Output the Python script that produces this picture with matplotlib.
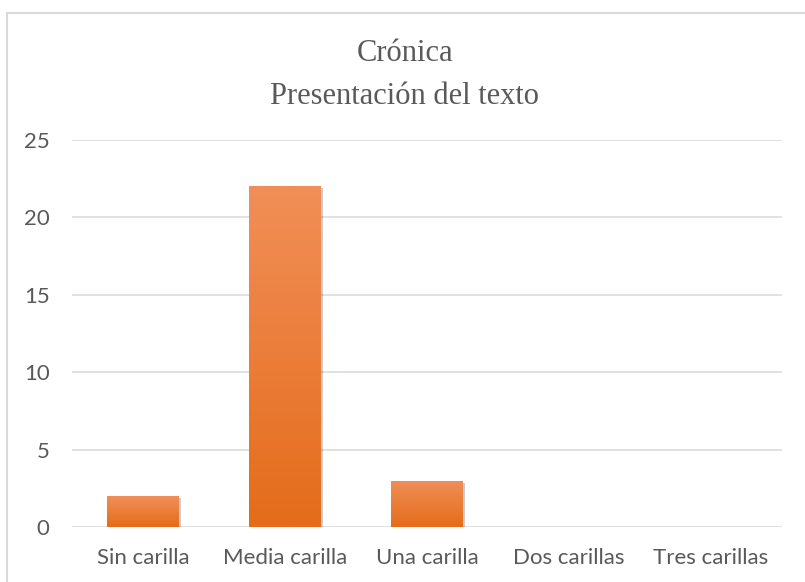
import numpy as np
import matplotlib
matplotlib.use("Agg")
from matplotlib import pyplot as plt
from matplotlib import patheffects as pe
from matplotlib.colors import LinearSegmentedColormap
from matplotlib.lines import Line2D

categories = ["Sin carilla", "Media carilla", "Una carilla", "Dos carillas", "Tres carillas"]
values = [2, 22, 3, 0, 0]
y_ticks = [0, 5, 10, 15, 20, 25]
title_lines = ["Crónica", "Presentación del texto"]

grey = "#595959"
grid_col = "#D9D9D9"

fig = plt.figure(figsize=(8.05, 5.82), dpi=100)
ax = fig.add_axes([0.0894, 0.0945, 0.882, 0.665])

x = np.arange(len(categories))
bars = ax.bar(x, values, width=0.5, color="#EC7C30", zorder=2)
shadow = [pe.SimplePatchShadow(offset=(1.5, -1.5), shadow_rgbFace="black", alpha=0.2),
          pe.Normal()]

cmap = LinearSegmentedColormap.from_list("orange", ["#E46C1A", "#F18F58"])
grad = np.linspace(0, 1, 256).reshape(-1, 1)
for b in bars:
    b.set_path_effects(shadow)
    if b.get_height() <= 0:
        b.set_visible(False)
        continue
    x0, y0 = b.get_x(), b.get_y()
    x1, y1 = x0 + b.get_width(), y0 + b.get_height()
    im = ax.imshow(grad, cmap=cmap, extent=[x0, x1, y0, y1], origin="lower",
                   aspect="auto", zorder=3)
    im.set_clip_path(b)

ax.set_xlim(-0.5, len(categories) - 0.5)
ax.set_ylim(0, 25)
ax.set_yticks(y_ticks)
ax.set_xticks(x)
ax.set_xticklabels(categories)
ax.yaxis.grid(True, color=grid_col, linewidth=1.1, zorder=0)
ax.set_axisbelow(True)
for s in ax.spines.values():
    s.set_visible(False)
ax.tick_params(axis="both", length=0, colors=grey, labelsize=16)
ax.tick_params(axis="y", pad=16)
ax.tick_params(axis="x", pad=15)
for lab in ax.get_xticklabels() + ax.get_yticklabels():
    lab.set_fontfamily("Lato")

# chart frame (top and left edges)
fig.add_artist(Line2D([7 / 805, 7 / 805], [0, 1 - 13 / 582], color=grid_col, linewidth=1.5,
                      transform=fig.transFigure))
fig.add_artist(Line2D([7 / 805, 1], [1 - 13 / 582, 1 - 13 / 582], color=grid_col, linewidth=1.5,
                      transform=fig.transFigure))

fig.text(0.503, 1 - 61 / 582, title_lines[0], ha="center", va="baseline",
         fontsize=22, color=grey, family="Liberation Serif")
fig.text(0.503, 1 - 104 / 582, title_lines[1], ha="center", va="baseline",
         fontsize=22, color=grey, family="Liberation Serif")

fig.savefig("out.png", dpi=100)
